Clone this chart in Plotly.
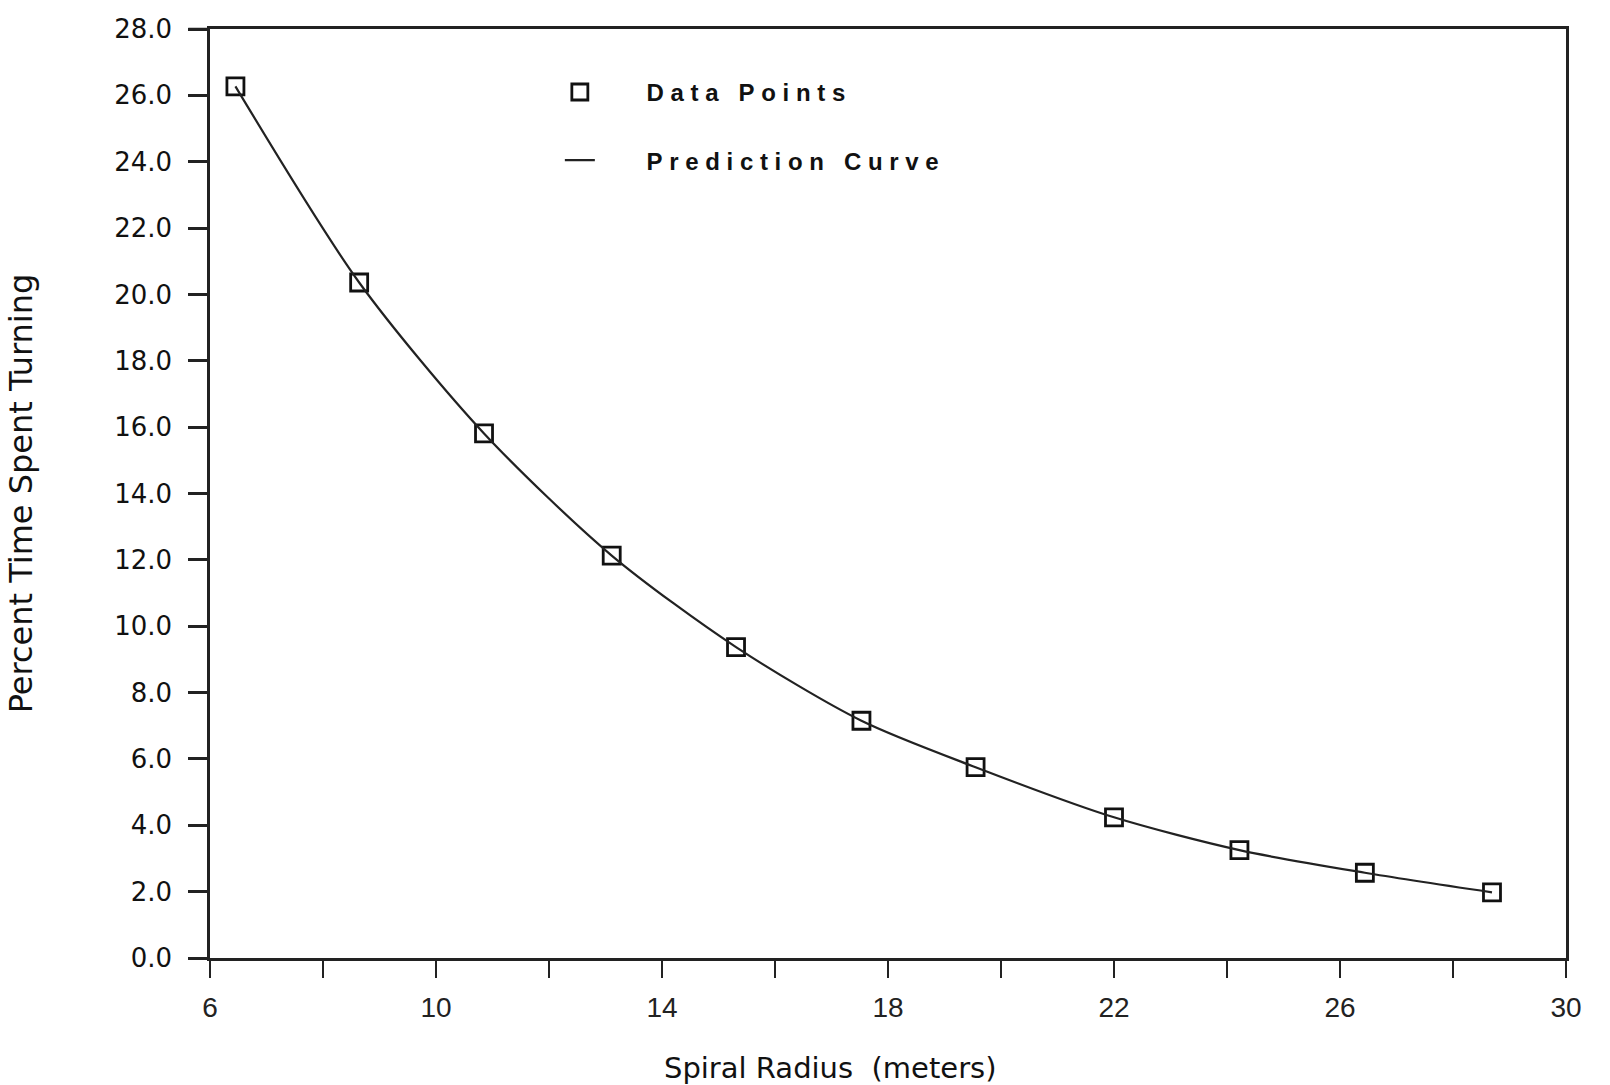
import plotly.graph_objects as go

# Data
radius = [6.45, 8.64, 10.85, 13.11, 15.31, 17.53, 19.55, 22.0, 24.22, 26.44, 28.69]
pct_turning = [26.27, 20.36, 15.81, 12.13, 9.37, 7.15, 5.75, 4.24, 3.25, 2.57, 1.98]

x_tickvals = [6, 8, 10, 12, 14, 16, 18, 20, 22, 24, 26, 28, 30]
x_ticktext = ["6", "", "10", "", "14", "", "18", "", "22", "", "26", "", "30"]
y_tickvals = [0, 2, 4, 6, 8, 10, 12, 14, 16, 18, 20, 22, 24, 26, 28]
y_ticktext = ["0.0", "2.0", "4.0", "6.0", "8.0", "10.0", "12.0", "14.0", "16.0",
              "18.0", "20.0", "22.0", "24.0", "26.0", "28.0"]

NB = "\u00a0"
pad = NB * 7
legend_points = pad + "D a t a   P o i n t s".replace(" ", NB)
legend_curve = pad + "P r e d i c t i o n   C u r v e".replace(" ", NB)

fig = go.Figure()
fig.add_trace(go.Scatter(
    x=radius, y=pct_turning, mode="markers", name=legend_points,
    legendgroup="a",
    marker=dict(symbol="square-open", size=17, color="#111",
                line=dict(width=2.8, color="#111")),
))
fig.add_trace(go.Scatter(
    x=radius, y=pct_turning, mode="lines", name=legend_curve,
    legendgroup="b",
    line=dict(color="#222", width=2.2, shape="spline", smoothing=0.8),
))

fig.update_layout(
    width=1610, height=1085,
    margin=dict(l=210, r=44, t=29, b=127),
    paper_bgcolor="white", plot_bgcolor="white",
    showlegend=True,
    legend=dict(
        x=0.258, y=0.956, xanchor="left", yanchor="top",
        bgcolor="rgba(0,0,0,0)", borderwidth=0,
        font=dict(family="Liberation Sans, Arial, sans-serif", size=24, color="#111", weight="bold"),
        tracegroupgap=34, traceorder="grouped",
    ),
    xaxis=dict(
        range=[6, 30], tickmode="array", tickvals=x_tickvals, ticktext=x_ticktext,
        ticks="outside", ticklen=17, tickwidth=2, tickcolor="#222",
        showline=True, linecolor="#222", linewidth=2.5, mirror=True,
        showgrid=False, zeroline=False,
        ticklabelstandoff=6,
        tickfont=dict(family="Liberation Sans, Arial, sans-serif", size=28, color="#222"),
    ),
    yaxis=dict(
        range=[0, 28], tickmode="array", tickvals=y_tickvals, ticktext=y_ticktext,
        ticks="outside", ticklen=19, tickwidth=2.5, tickcolor="#222",
        showline=True, linecolor="#222", linewidth=2.5, mirror=True,
        showgrid=False, zeroline=False,
        ticklabelstandoff=11,
        tickfont=dict(family="DejaVu Sans, sans-serif", size=26, color="#111"),
        title=dict(text="Percent Time Spent Turning", standoff=72,
                   font=dict(family="DejaVu Sans, sans-serif", size=32, color="#111")),
    ),
    shapes=[dict(type="line", xref="paper", yref="paper", x0=-0.016, x1=0, y0=1, y1=1,
                 line=dict(color="#222", width=2.5))],
    annotations=[dict(
        text="Spiral Radius\u00a0\u00a0(meters)", xref="paper", yref="paper",
        x=0.457, y=-0.118, xanchor="center", yanchor="middle", showarrow=False,
        font=dict(family="DejaVu Sans, sans-serif", size=29, color="#111"),
    )],
)

fig.write_html("out.html")
